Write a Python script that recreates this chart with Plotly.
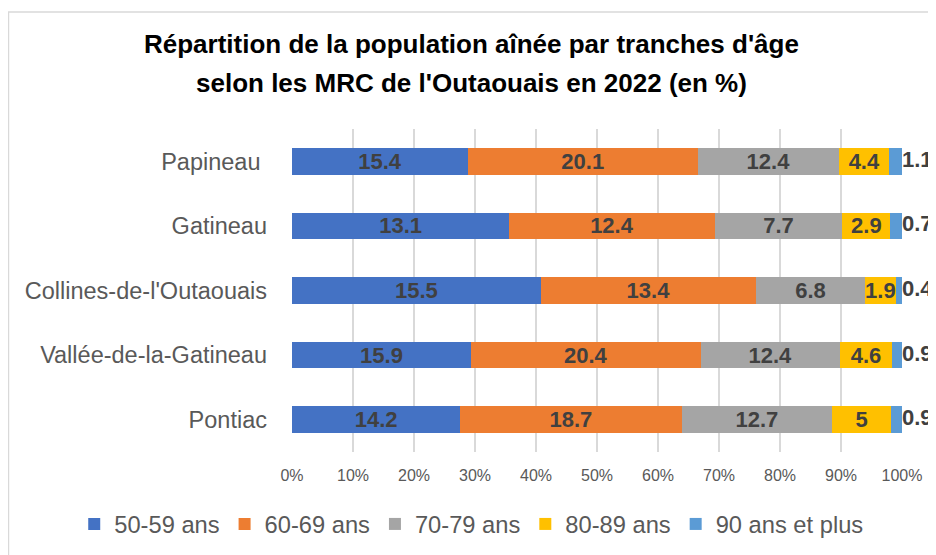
import plotly.graph_objects as go

# MRC de l'Outaouais, population ainee par tranches d'age (en %)
mrc = ["Pontiac", "Vallée-de-la-Gatineau", "Collines-de-l'Outaouais", "Gatineau", "Papineau\u00a0"]
groups = ["50-59 ans", "60-69 ans", "70-79 ans", "80-89 ans", "90 ans et plus"]

v_50_59 = [14.2, 15.9, 15.5, 13.1, 15.4]
v_60_69 = [18.7, 20.4, 13.4, 12.4, 20.1]
v_70_79 = [12.7, 12.4, 6.8, 7.7, 12.4]
v_80_89 = [5, 4.6, 1.9, 2.9, 4.4]
v_90_plus = [0.9, 0.9, 0.4, 0.7, 1.1]

x_ticks = [0, 10, 20, 30, 40, 50, 60, 70, 80, 90, 100]
x_tick_labels = ["0%", "10%", "20%", "30%", "40%", "50%", "60%", "70%", "80%", "90%", "100%"]

series = [v_50_59, v_60_69, v_70_79, v_80_89, v_90_plus]
colors = ["#4472C4", "#ED7D31", "#A5A5A5", "#FFC000", "#5B9BD5"]

FONT = "Liberation Sans"
label_font = dict(family=FONT, size=22, color="#404040", weight="bold")

fig = go.Figure()
for name, vals, col in zip(groups, series, colors):
    last = name == groups[-1]
    fig.add_trace(go.Bar(
        y=mrc, x=vals, name=name, orientation="h",
        marker=dict(color=col, line=dict(width=0)),
        text=None if last else [f"{v:g}" for v in vals],
        textposition="none" if last else "inside",
        insidetextanchor="middle",
        textangle=0,
        constraintext="none",
        textfont=label_font,
        insidetextfont=label_font,
    ))

# labels of the last segment sit just past the end of each (normalised) stack
# (rounded, otherwise float noise puts some points past 100 and plotly hides them)
totals = [sum(s[i] for s in series) for i in range(len(mrc))]
stack_end = [round(100 * totals[i] / totals[i], 6) for i in range(len(mrc))]
fig.add_trace(go.Scatter(
    y=mrc, x=stack_end, mode="text", text=[f"{v:g}" for v in v_90_plus],
    textposition="middle right", textfont=label_font,
    showlegend=False, cliponaxis=False, hoverinfo="skip",
))

# chart box border
fig.add_shape(type="rect", xref="paper", yref="paper",
              x0=-0.4648, x1=1.08, y0=-0.35, y1=1.362,
              line=dict(color="#D9D9D9", width=1.5), layer="below")

# two-line title
fig.add_annotation(text="<b>Répartition de la population aînée par tranches d'âge</b>",
                   xref="paper", yref="paper", x=0.295, y=1.264, xanchor="center",
                   yanchor="middle", showarrow=False,
                   font=dict(family=FONT, size=26, color="#000000"))
fig.add_annotation(text="<b>selon les MRC de l'Outaouais en 2022 (en %)</b>",
                   xref="paper", yref="paper", x=0.295, y=1.143, xanchor="center",
                   yanchor="middle", showarrow=False,
                   font=dict(family=FONT, size=26, color="#000000"))

# page body has an 8px margin, so the figure is shifted by 8px
fig.update_layout(
    width=928, height=547,
    barmode="stack", barnorm="percent", bargap=0.59,
    paper_bgcolor="white", plot_bgcolor="white",
    margin=dict(l=284, r=34, t=121, b=103, autoexpand=False),
    showlegend=True,
    legend=dict(orientation="h", x=-0.357, xanchor="left",
                y=-0.223, yanchor="middle",
                font=dict(family=FONT, size=23.7, color="#595959"),
                itemwidth=30, traceorder="normal"),
    xaxis=dict(range=[0, 100], tickvals=x_ticks, ticktext=x_tick_labels,
               showgrid=True, gridcolor="#D9D9D9", gridwidth=1.5,
               zeroline=False, showline=False, ticks="", automargin=False,
               tickfont=dict(family=FONT, size=16, color="#595959"),
               ticklabelstandoff=12),
    yaxis=dict(showgrid=False, zeroline=False, showline=False, ticks="", automargin=False,
               tickfont=dict(family=FONT, size=23.5, color="#595959"),
               ticklabelstandoff=24),
)

fig.write_html("out.html")
